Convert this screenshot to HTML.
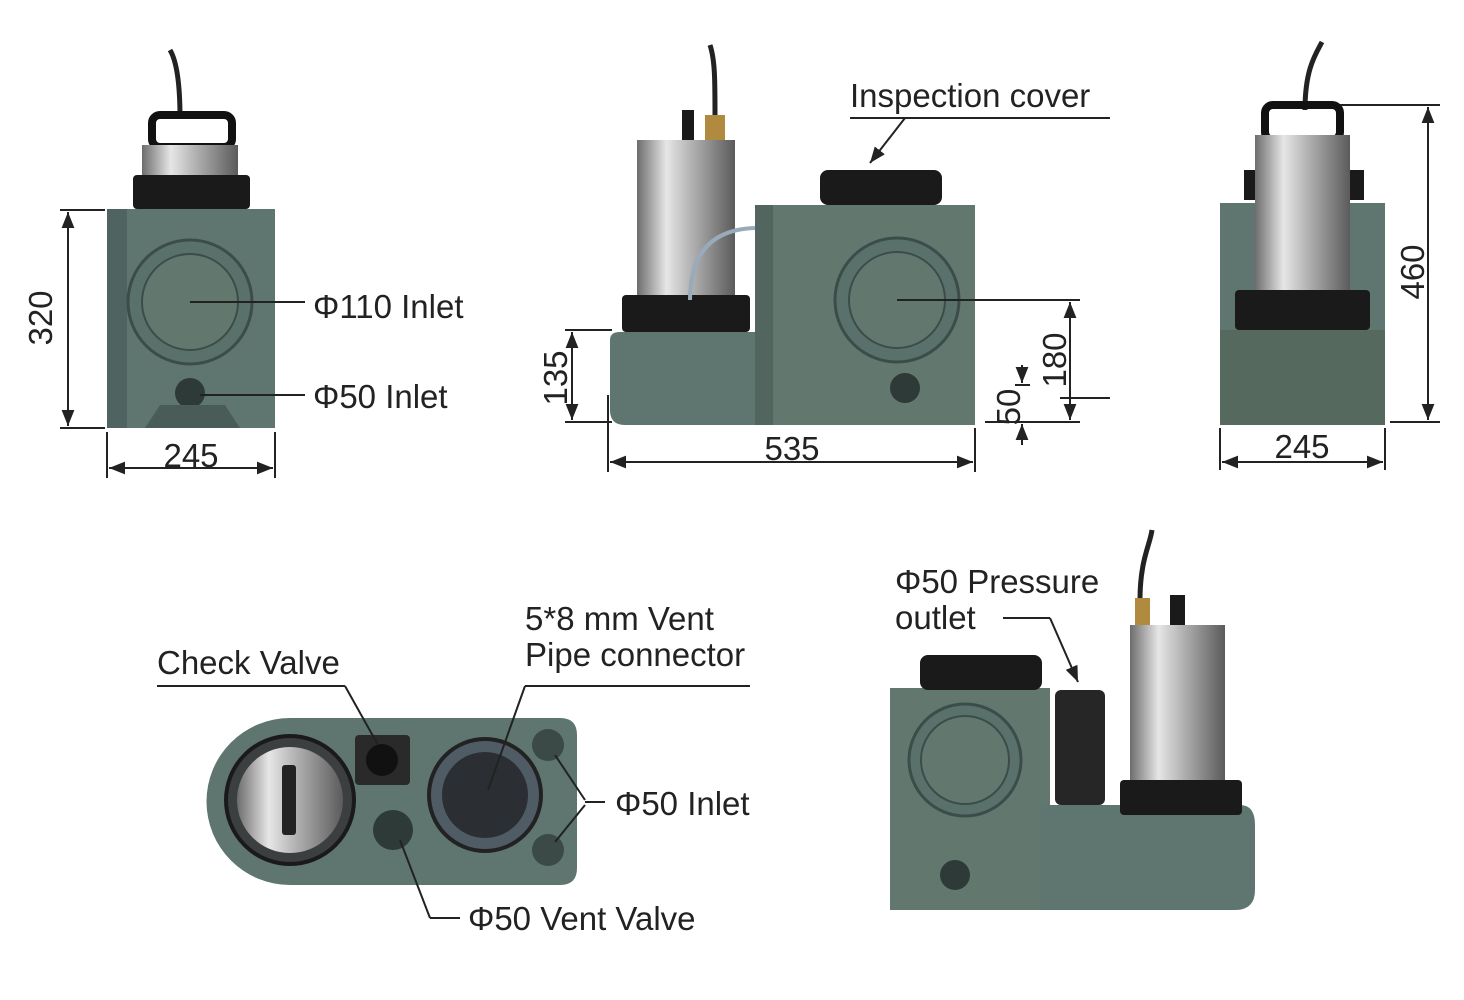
<!DOCTYPE html>
<html><head><meta charset="utf-8"><style>
html,body{margin:0;padding:0;background:#fff;}
svg{display:block;}
text{font-family:"Liberation Sans",sans-serif;fill:#222;}
</style></head><body>
<svg width="1464" height="1000" viewBox="0 0 1464 1000" xmlns="http://www.w3.org/2000/svg">
<defs>
<linearGradient id="sil" x1="0" x2="1"><stop offset="0" stop-color="#6d6d6d"/><stop offset="0.3" stop-color="#e6e6e6"/><stop offset="0.6" stop-color="#a9a9a9"/><stop offset="1" stop-color="#5b5b5b"/></linearGradient>
<marker id="a" viewBox="0 0 10 10" refX="10" refY="5" markerWidth="8" markerHeight="8" orient="auto-start-reverse"><path d="M0,1 L10,5 L0,9 z" fill="#222"/></marker>
</defs>

<!-- VIEW 1 -->
<path d="M180,118 C180,80 176,60 170,50" stroke="#222" stroke-width="5" fill="none"/>
<rect x="152" y="115" width="80" height="32" rx="8" fill="none" stroke="#111" stroke-width="8"/>
<rect x="142" y="145" width="96" height="33" fill="url(#sil)"/>
<rect x="133" y="175" width="117" height="34" rx="4" fill="#1a1a1a"/>
<rect x="107" y="209" width="168" height="219" fill="#5f7570"/>
<rect x="107" y="209" width="20" height="219" fill="#4f6460"/>
<circle cx="190" cy="302" r="62" fill="#5a706b" stroke="#3c4d49" stroke-width="3"/>
<circle cx="190" cy="302" r="48" fill="#62786f" stroke="#3c4d49" stroke-width="2"/>
<circle cx="190" cy="393" r="15" fill="#2e3a38"/>
<path d="M145,428 L160,405 L225,405 L240,428 Z" fill="#4a5c58"/>

<!-- VIEW 2 -->
<path d="M715,118 C715,80 715,60 710,45" stroke="#222" stroke-width="5" fill="none"/>
<rect x="682" y="110" width="12" height="30" fill="#1a1a1a"/>
<rect x="705" y="115" width="20" height="25" fill="#b08a3e"/>
<rect x="637" y="140" width="98" height="160" fill="url(#sil)"/>
<path d="M610,340 Q610,332 620,332 L975,332 L975,425 L625,425 Q610,425 610,410 Z" fill="#5f7570"/>
<rect x="755" y="205" width="220" height="220" fill="#62786f"/>
<rect x="755" y="205" width="18" height="220" fill="#52665f"/>
<rect x="622" y="295" width="128" height="37" rx="4" fill="#1a1a1a"/>
<rect x="820" y="170" width="122" height="35" rx="8" fill="#1a1a1a"/>
<circle cx="897" cy="300" r="62" fill="#5a706b" stroke="#3c4d49" stroke-width="3"/>
<circle cx="897" cy="300" r="48" fill="#62786f" stroke="#3c4d49" stroke-width="2"/>
<circle cx="905" cy="388" r="15" fill="#2e3a38"/>
<path d="M690,300 Q690,230 755,228" stroke="#9ab" stroke-width="4" fill="none"/>

<!-- VIEW 3 -->
<path d="M1305,110 C1305,70 1315,55 1322,42" stroke="#222" stroke-width="5" fill="none"/>
<rect x="1265" y="105" width="75" height="35" rx="8" fill="none" stroke="#111" stroke-width="8"/>
<rect x="1220" y="203" width="165" height="222" fill="#5f7570"/>
<rect x="1244" y="170" width="120" height="30" fill="#1a1a1a"/>
<rect x="1255" y="135" width="95" height="160" fill="url(#sil)"/>
<rect x="1235" y="290" width="135" height="40" rx="4" fill="#1a1a1a"/>
<rect x="1220" y="330" width="165" height="95" fill="#55695f"/>

<!-- VIEW 4 -->
<path d="M290,718 L560,718 Q577,718 577,735 L577,868 Q577,885 560,885 L290,885 A83,83 0 0 1 290,718 Z" fill="#5f7570"/>
<circle cx="290" cy="800" r="64" fill="#3b3f3f" stroke="#1a1a1a" stroke-width="4"/>
<circle cx="290" cy="800" r="53" fill="url(#sil)"/>
<rect x="282" y="765" width="14" height="70" rx="3" fill="#222"/>
<rect x="355" y="735" width="55" height="50" rx="4" fill="#2a2a2a"/>
<circle cx="382" cy="760" r="16" fill="#111"/>
<circle cx="485" cy="795" r="56" fill="#4f5c65" stroke="#222" stroke-width="4"/>
<circle cx="485" cy="795" r="43" fill="#2b2f33"/>
<circle cx="548" cy="745" r="16" fill="#3b4a46"/>
<circle cx="548" cy="850" r="16" fill="#3b4a46"/>
<circle cx="393" cy="830" r="20" fill="#2e3a38"/>

<!-- VIEW 5 -->
<path d="M1140,600 C1140,560 1150,545 1152,530" stroke="#222" stroke-width="5" fill="none"/>
<rect x="1170" y="595" width="15" height="30" fill="#1a1a1a"/>
<rect x="1135" y="598" width="15" height="27" fill="#b08a3e"/>
<rect x="890" y="688" width="160" height="222" fill="#62786f"/>
<rect x="920" y="655" width="122" height="35" rx="8" fill="#1a1a1a"/>
<path d="M1040,805 L1240,805 Q1255,805 1255,825 L1255,890 Q1255,910 1235,910 L1040,910 Z" fill="#5f7570"/>
<rect x="1130" y="625" width="95" height="160" fill="url(#sil)"/>
<rect x="1120" y="780" width="122" height="35" rx="4" fill="#1a1a1a"/>
<rect x="1055" y="690" width="50" height="115" rx="6" fill="#262626"/>
<circle cx="965" cy="760" r="56" fill="#5a706b" stroke="#3c4d49" stroke-width="3"/>
<circle cx="965" cy="760" r="44" fill="#62786f" stroke="#3c4d49" stroke-width="2"/>
<circle cx="955" cy="875" r="15" fill="#2e3a38"/>

<!-- Dimension lines -->
<g stroke="#222" stroke-width="2" fill="none">
<line x1="60" y1="210" x2="105" y2="210"/><line x1="60" y1="428" x2="105" y2="428"/>
<line x1="68" y1="212" x2="68" y2="426" marker-start="url(#a)" marker-end="url(#a)"/>
<line x1="107" y1="432" x2="107" y2="478"/><line x1="275" y1="432" x2="275" y2="478"/>
<line x1="109" y1="468" x2="273" y2="468" marker-start="url(#a)" marker-end="url(#a)"/>
<line x1="190" y1="302" x2="305" y2="302"/><line x1="200" y1="395" x2="305" y2="395"/>

<line x1="565" y1="330" x2="612" y2="330"/><line x1="565" y1="422" x2="612" y2="422"/>
<line x1="572" y1="332" x2="572" y2="420" marker-start="url(#a)" marker-end="url(#a)"/>
<line x1="608" y1="395" x2="608" y2="472"/><line x1="975" y1="428" x2="975" y2="472"/>
<line x1="610" y1="462" x2="973" y2="462" marker-start="url(#a)" marker-end="url(#a)"/>
<line x1="897" y1="300" x2="1080" y2="300"/><line x1="985" y1="422" x2="1080" y2="422"/>
<line x1="1070" y1="302" x2="1070" y2="420" marker-start="url(#a)" marker-end="url(#a)"/>
<line x1="1060" y1="398" x2="1110" y2="398"/>
<line x1="1015" y1="385" x2="1030" y2="385"/>
<line x1="1022" y1="365" x2="1022" y2="383" marker-end="url(#a)"/>
<line x1="1022" y1="445" x2="1022" y2="424" marker-end="url(#a)"/>
<line x1="850" y1="118" x2="1110" y2="118"/><line x1="905" y1="118" x2="870" y2="163" marker-end="url(#a)"/>

<line x1="1340" y1="105" x2="1440" y2="105"/><line x1="1390" y1="422" x2="1440" y2="422"/>
<line x1="1428" y1="107" x2="1428" y2="420" marker-start="url(#a)" marker-end="url(#a)"/>
<line x1="1220" y1="428" x2="1220" y2="470"/><line x1="1385" y1="428" x2="1385" y2="470"/>
<line x1="1222" y1="462" x2="1383" y2="462" marker-start="url(#a)" marker-end="url(#a)"/>

<line x1="157" y1="686" x2="345" y2="686"/><line x1="345" y1="686" x2="378" y2="745"/>
<line x1="525" y1="686" x2="750" y2="686"/><line x1="525" y1="686" x2="488" y2="790"/>
<line x1="555" y1="755" x2="585" y2="800"/><line x1="555" y1="842" x2="585" y2="805"/><line x1="585" y1="802" x2="605" y2="802"/>
<line x1="400" y1="840" x2="430" y2="918"/><line x1="430" y1="918" x2="460" y2="918"/>
<line x1="1003" y1="618" x2="1050" y2="618"/><line x1="1050" y1="618" x2="1078" y2="682" marker-end="url(#a)"/>
</g>

<!-- Labels -->
<g font-size="33">
<text x="52" y="318" transform="rotate(-90 52 318)" text-anchor="middle">320</text>
<text x="191" y="467" text-anchor="middle">245</text>
<text x="313" y="318">Φ110 Inlet</text>
<text x="313" y="408">Φ50 Inlet</text>
<text x="850" y="107">Inspection cover</text>
<text x="567" y="378" transform="rotate(-90 567 378)" text-anchor="middle">135</text>
<text x="792" y="460" text-anchor="middle">535</text>
<text x="1066" y="360" transform="rotate(-90 1066 360)" text-anchor="middle">180</text>
<text x="1020" y="407" transform="rotate(-90 1020 407)" text-anchor="middle">50</text>
<text x="1424" y="272" transform="rotate(-90 1424 272)" text-anchor="middle">460</text>
<text x="1302" y="458" text-anchor="middle">245</text>
<text x="157" y="674">Check Valve</text>
<text x="525" y="630">5*8 mm Vent</text>
<text x="525" y="666">Pipe connector</text>
<text x="615" y="815">Φ50 Inlet</text>
<text x="468" y="930">Φ50 Vent Valve</text>
<text x="895" y="593">Φ50 Pressure</text>
<text x="895" y="629">outlet</text>
</g>
</svg>
</body></html>
